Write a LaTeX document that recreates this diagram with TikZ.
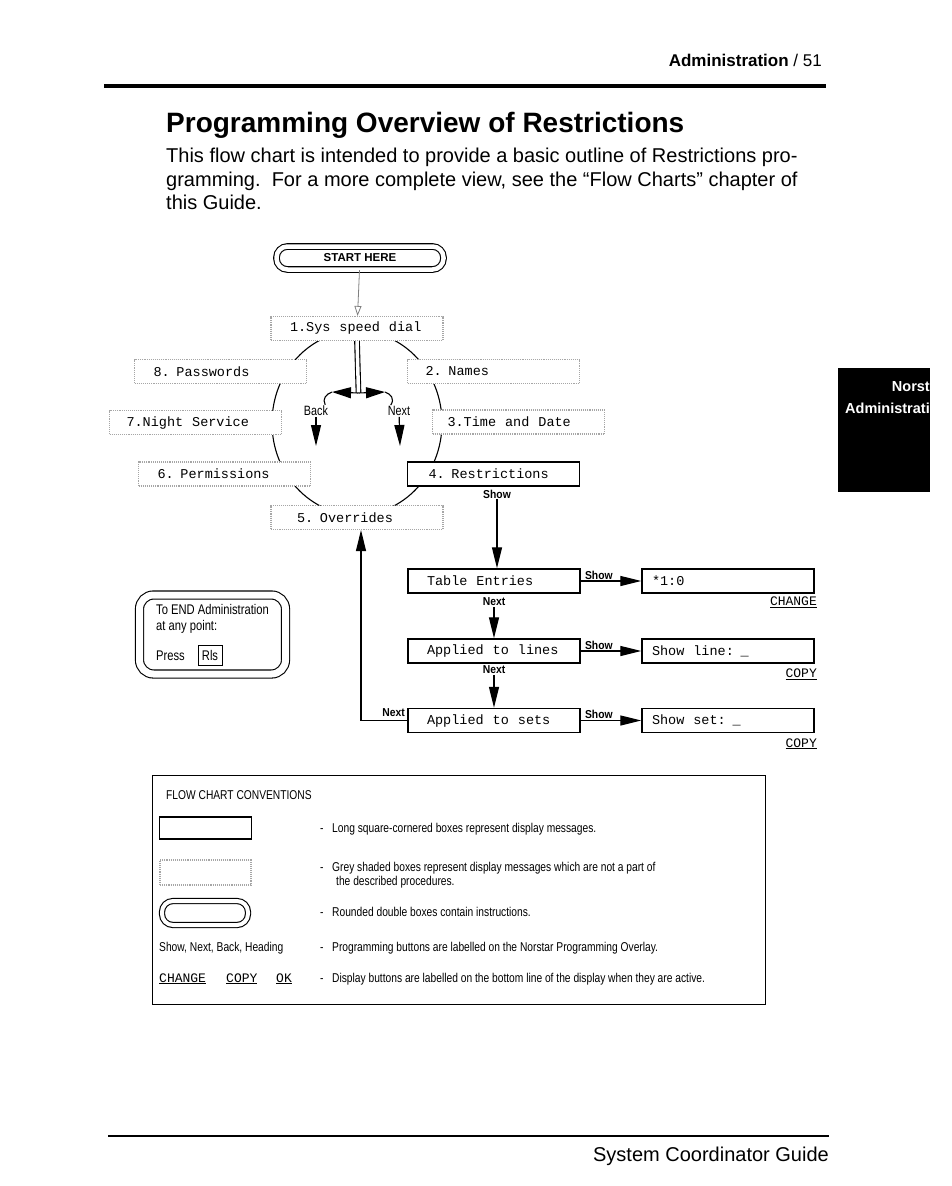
\documentclass[tikz,border=0pt]{standalone}
\usepackage{fontspec}
\setmainfont{Liberation Sans}
\newfontfamily\hvc[FakeStretch=0.9]{Liberation Sans}
\newfontfamily\hvn[FakeStretch=0.8]{Liberation Sans}
\newfontfamily\dotm{Liberation Mono}
\usetikzlibrary{arrows.meta,positioning,calc}
\newcommand\fsz[1]{\fontsize{#1}{#1}\selectfont}

\tikzset{
 disp/.style={draw,line width=1.4pt,fill=white,minimum height=24pt,inner ysep=0pt,
   inner xsep=19pt,text width=134pt,align=left,font=\dotm\fsz{13.5},
   execute at begin node={\spaceskip=9pt\relax}},
 grey/.style={disp,draw=gray!70,line width=1.1pt,densely dotted},
 dbox/.style={draw,line width=1.1pt,double,double distance=4.5pt,rounded corners=11pt},
 btnlbl/.style={font=\hvc\bfseries\fsz{11.5},inner sep=1pt},
 ringlbl/.style={font=\hvn\fsz{13.5},inner sep=1pt},
 arr/.style={line width=1.2pt,-{Triangle[length=21pt,width=10pt]}},
 headarr/.style={line width=1.1pt,-{Triangle[length=19pt,width=11pt]}},
 body/.style={anchor=base west,inner sep=0pt,font=\fsz{20}},
 hint/.style={anchor=base west,inner sep=0pt,font=\hvn\fsz{14}},
 note/.style={anchor=base west,inner sep=0pt,font=\hvn\fsz{12.8}},
 softkey/.style={anchor=base east,inner sep=0pt,font=\dotm\fsz{13}}
}

\begin{document}
\begin{tikzpicture}[x=1pt,y=-1pt]
 \useasboundingbox (0,0) rectangle (952,1186);
 % page head and intro
 \node[anchor=base east,inner sep=0pt,font=\fsz{17}] (head) at (822,66) {\textbf{Administration} / 51};
 \draw[line width=4pt] (104,86) -- (826,86);
 \node[anchor=base west,inner sep=0pt,font=\bfseries\fsz{28}] (title) at (166,132) {Programming Overview of Restrictions};
 \node[body] (intro1) at (166,162) {This flow chart is intended to provide a basic outline of Restrictions pro-};
 \node[body] (intro2) at (166,186) {gramming.\ \ For a more complete view, see the “Flow Charts” chapter of};
 \node[body] (intro3) at (166,209) {this Guide.};
 % side tab
 \fill (838,368) rectangle (930,492);
 \node[anchor=base east,inner sep=0pt,text=white,font=\bfseries\fsz{14.5}] (tab1) at (930,391) {Norst};
 \node[anchor=base east,inner sep=0pt,text=white,font=\bfseries\fsz{14.5}] (tab2) at (930,413) {Administrati};

 % start
 \node[dbox,minimum width=167pt,minimum height=23pt,font=\bfseries\fsz{11.5}] (start) at (360,258) {START HERE};

 % ring of headings
 \draw[line width=1.1pt] (357,423) ellipse [x radius=85pt, y radius=92pt];
 \node[grey] (sys) at (357,328.5) {1.Sys speed dial};
 \node[grey] (pwd) at (220.5,371.5) {8. Passwords};
 \node[grey,inner xsep=18pt,text width=136pt] (names) at (493.5,371.5) {2. Names};
 \node[grey,inner xsep=17pt,text width=138pt] (night) at (195.5,422.5) {7.Night Service};
 \node[grey,inner xsep=15pt,text width=142pt] (time) at (518.5,422) {3.Time and Date};
 \node[grey] (perm) at (224.5,474) {6. Permissions};
 \node[disp,inner xsep=21pt,text width=130pt] (restr) at (493.5,474) {4. Restrictions};
 \node[grey,inner xsep=26pt,text width=120pt] (over) at (357,517.5) {5. Overrides};
 \draw[gray,line width=0.8pt,-{Triangle[open,length=10pt,width=7pt]}] (start) -- (sys);

 % back / next fork
 \coordinate (fork) at (358.5,393);
 \coordinate (bkhead) at (332,392);
 \coordinate (nxhead) at (385,392);
 \draw[line width=1.1pt,double,double distance=3.5pt] (sys.south) -- (fork);
 \node[ringlbl] (back) at (316,411) {Back};
 \node[ringlbl] (next) at (399,411) {Next};
 \coordinate (bkdown) at (316,446);
 \coordinate (nxdown) at (400,446);
 \draw[headarr] (fork) -- (bkhead);
 \draw[headarr] (fork) -- (nxhead);
 \draw[line width=1.1pt] (bkhead) .. controls (326,394) and (322,399) .. ([xshift=-4pt]back.north east);
 \draw[line width=1.1pt] (nxhead) .. controls (391,394) and (395,399) .. ([xshift=4pt]next.north west);
 \draw[arr] (back) -- (bkdown);
 \draw[arr] (next) -- (nxdown);

 % restrictions steps
 \node[disp] (table) at (494,581) {Table Entries};
 \node[disp] (lines) at (494,651) {Applied to lines};
 \node[disp] (sets) at (494,720.5) {Applied to sets};
 \node[disp,inner xsep=10pt,text width=152pt] (val1) at (728,581) {*1:0};
 \node[disp,inner xsep=10pt,text width=152pt] (val2) at (728,651) {Show line: \_};
 \node[disp,inner xsep=10pt,text width=152pt] (val3) at (728,720.5) {Show set: \_};
 \node[softkey] (chg) at (817,605.5) {\underline{CHANGE}};
 \node[softkey] (copy1) at (817,677.5) {\underline{COPY}};
 \node[softkey] (copy2) at (817,747) {\underline{COPY}};

 \node[btnlbl] (show0) at (497,494) {Show};
 \draw[arr] (show0.south) -- (show0.south |- table.north);
 \draw[arr] (table.east) -- node[btnlbl,pos=0.3,above] (show1) {Show} (val1.west);
 \draw[arr] (lines.east) -- node[btnlbl,pos=0.3,above] (show2) {Show} (val2.west);
 \draw[arr] (sets.east) -- node[btnlbl,pos=0.3,above] (show3) {Show} (val3.west);
 \node[btnlbl] (next1) at (494,602) {Next};
 \draw[arr] (next1.south) -- (next1.south |- lines.north);
 \node[btnlbl] (next2) at (494,670) {Next};
 \draw[arr] (next2.south) -- (next2.south |- sets.north);
 \coordinate (ret) at (361,720.5);
 \node[btnlbl,anchor=south east] (next3) at (406,718) {Next};
 \draw[arr] (sets.west) -- (ret) -- (ret |- over.south);

 % how to leave
 \node[dbox,double distance=7pt,rounded corners=14pt,minimum width=146pt,minimum height=79pt] (endbox) at (212.5,634.5) {};
 \node[hint] (end1) at (156,614) {To END Administration};
 \node[hint] (end2) at (156,630) {at any point:};
 \node[hint] (end3) at (156,660) {Press};
 \node[draw,line width=1pt,font=\hvn\fsz{14},inner sep=1.5pt,minimum height=20pt,minimum width=24pt] (rls) at (210,655) {Rls};

 % conventions
 \node[draw,line width=1pt,minimum width=613pt,minimum height=229pt,anchor=north west] (conv) at (152,775) {};
 \node[note] (convhd) at (166,799) {FLOW CHART CONVENTIONS};
 \node[draw,line width=1.4pt,minimum width=92pt,minimum height=22pt] (smpdisp) at (205.5,828) {};
 \node[draw=gray!70,densely dotted,line width=1.1pt,minimum width=91pt,minimum height=25pt] (smpgrey) at (205.5,872.5) {};
 \node[dbox,double distance=4pt,minimum width=86pt,minimum height=24pt] (smpdbl) at (205,913) {};
 \node[note] (smpbtn) at (159,951) {Show, Next, Back, Heading};
 \node[softkey,anchor=base west] (cchg) at (159,982) {\underline{CHANGE}};
 \node[softkey,anchor=base west] (ccopy) at (226,982) {\underline{COPY}};
 \node[softkey,anchor=base west] (cok) at (276,982) {\underline{OK}};
 \foreach \y/\t in {832/Long square-cornered boxes represent display messages.,
   871/Grey shaded boxes represent display messages which are not a part of,
   916/Rounded double boxes contain instructions.,
   951/Programming buttons are labelled on the Norstar Programming Overlay.,
   982/Display buttons are labelled on the bottom line of the display when they are active.}{
  \node[note] (desc\y) at (320,\y) {\makebox[12pt][l]{-}\t};}
 \node[note] (desc885) at (336,885) {the described procedures.};

 % page foot
 \draw[line width=2.2pt] (108,1136) -- (829,1136);
 \node[anchor=base east,inner sep=0pt,font=\fsz{20}] (foot) at (829,1161) {System Coordinator Guide};
\end{tikzpicture}
\end{document}
